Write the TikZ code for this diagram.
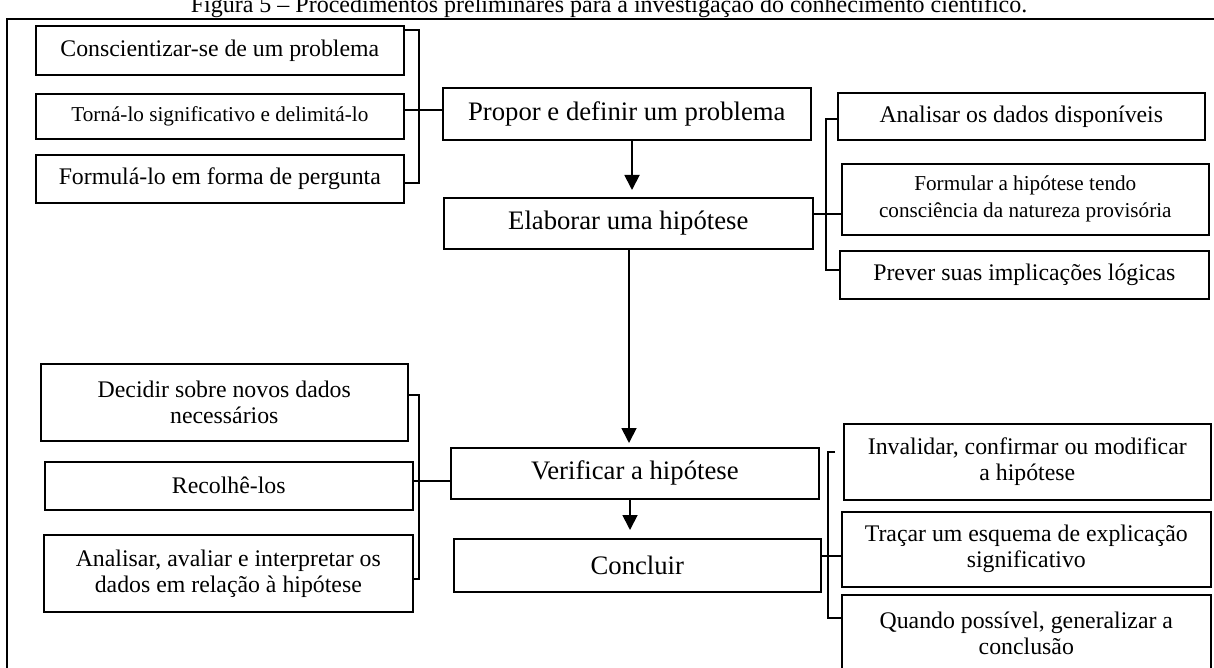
\documentclass[tikz,border=0pt]{standalone}
\usepackage{fontspec}
\setmainfont{Liberation Serif}
\usetikzlibrary{arrows.meta}
\tikzset{
  box/.style={draw, line width=1.6pt, inner sep=0pt, anchor=north west, align=center},
  fm/.style={font=\fontsize{26.7}{30}\selectfont},
  fs/.style={font=\fontsize{23.8}{26}\selectfont},
  ft/.style={font=\fontsize{21.2}{27}\selectfont},
  link/.style={line width=1.4pt},
  flow/.style={line width=1.8pt, -{Triangle[length=15pt,width=15pt]}},
}
\begin{document}
\begin{tikzpicture}[x=1pt,y=-1pt]
\useasboundingbox (0,0) rectangle (1214,668);
% title and frame
\node[anchor=base, font=\fontsize{24}{26}\selectfont] (title) at (609,13)
  {Figura 5 – Procedimentos preliminares para a investigação do conhecimento científico.};
\draw[line width=1.6pt] (7,19) rectangle (1222,676);
% left top group
\node[box,fs,minimum width=368pt,minimum height=49pt] (c1) at (35,25) {Conscientizar-se de um problema};
\node[box,ft,minimum width=368pt,minimum height=45pt] (c2) at (35,93) {Torná-lo significativo e delimitá-lo};
\node[box,fs,minimum width=368pt,minimum height=48pt] (c3) at (35,154) {Formulá-lo em forma de pergunta};
% main column
\node[box,fm,minimum width=368pt,minimum height=52pt] (P) at (442,87) {Propor e definir um problema};
\node[box,fm,minimum width=369pt,minimum height=51pt] (E) at (443,197) {Elaborar uma hipótese};
\node[box,fm,minimum width=368pt,minimum height=51pt] (V) at (450,447) {Verificar a hipótese};
\node[box,fm,minimum width=367pt,minimum height=53pt] (K) at (453,538) {Concluir};
% right top group
\node[box,fs,minimum width=367pt,minimum height=47pt] (a1) at (837,92) {Analisar os dados disponíveis};
\node[box,ft,minimum width=367pt,minimum height=71pt] (a2) at (841,163) {Formular a hipótese tendo\\consciência da natureza provisória};
\node[box,fs,minimum width=369pt,minimum height=48pt] (a3) at (839,250) {Prever suas implicações lógicas};
% left bottom group
\node[box,fs,minimum width=367pt,minimum height=77pt] (d1) at (40,363) {Decidir sobre novos dados\\necessários};
\node[box,fs,minimum width=368pt,minimum height=48pt] (d2) at (44,461) {Recolhê-los};
\node[box,fs,minimum width=369pt,minimum height=77pt] (d3) at (43,534) {Analisar, avaliar e interpretar os\\dados em relação à hipótese};
% right bottom group
\node[box,fs,minimum width=367pt,minimum height=76pt] (q1) at (843,423) {Invalidar, confirmar ou modificar\\a hipótese};
\node[box,fs,minimum width=369pt,minimum height=75pt] (q2) at (841,511) {Traçar um esquema de explicação\\significativo};
\node[box,fs,minimum width=369pt,minimum height=78pt] (q3) at (841,594) {Quando possível, generalizar a\\conclusão};
% bracket coordinates
\coordinate (L1t) at (419,30);
\coordinate (L1b) at (419,183);
\coordinate (m1) at (0,110);
\coordinate (R1t) at (826,119);
\coordinate (R1b) at (826,270);
\coordinate (m2) at (0,214);
\coordinate (L2t) at (419,395);
\coordinate (L2b) at (419,579);
\coordinate (m3) at (0,481);
\coordinate (R2t) at (828,452);
\coordinate (R2s) at (835,452);
\coordinate (R2b) at (828,618);
\coordinate (m4) at (0,556);
\coordinate (x1) at (632,0);
\coordinate (x2) at (629,0);
\coordinate (x3) at (630,0);
% brackets
\draw[link] (c1.east |- L1t) -- (L1t) -- (L1b) -- (c3.east |- L1b);
\draw[link] (c2.east |- m1) -- (P.west |- m1);
\draw[link] (a1.west |- R1t) -- (R1t) -- (R1b) -- (a3.west |- R1b);
\draw[link] (E.east |- m2) -- (a2.west |- m2);
\draw[link] (d1.east |- L2t) -- (L2t) -- (L2b) -- (d3.east |- L2b);
\draw[link] (d2.east |- m3) -- (V.west |- m3);
\draw[link] (R2s) -- (R2t) -- (R2b) -- (q3.west |- R2b);
\draw[link] (K.east |- m4) -- (q2.west |- m4);
% flow arrows
\draw[flow, shorten >=7pt] (P.south -| x1) -- (E.north -| x1);
\draw[flow, shorten >=4pt] (E.south -| x2) -- (V.north -| x2);
\draw[flow, shorten >=8pt] (V.south -| x3) -- (K.north -| x3);
\end{tikzpicture}
\end{document}
